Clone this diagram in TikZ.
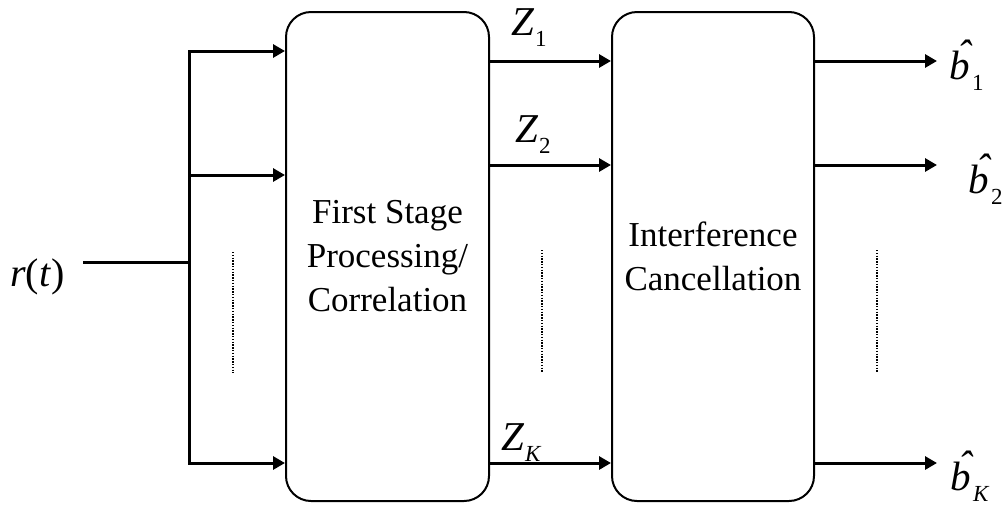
\documentclass[tikz,border=0pt]{standalone}
\usepackage{fontspec}
\setmainfont{Liberation Serif}
\usetikzlibrary{arrows.meta}

% italic symbol with a lowered subscript
\newcommand{\symsub}[3][1pt]{{\fontsize{41}{44}\selectfont\itshape #2}\kern#1\raisebox{-11pt}{\fontsize{23}{25}\selectfont #3}}
% italic b carrying a circumflex
\newcommand{\hatb}{\makebox[0pt][l]{\hspace{0.2em}\raisebox{0.26em}{\char"02C6}}b}

\tikzset{
  block/.style={draw, line width=2pt, rounded corners=25pt, align=center,
    font=\fontsize{35}{44}\selectfont, inner sep=0pt},
  wire/.style={line width=3pt},
  arr/.style={line width=3pt, -{Triangle[length=12pt,width=13pt]}},
  dots/.style={line width=1.6pt, dash pattern=on 1.4pt off 1.4pt},
  lbl/.style={anchor=base west, inner sep=0pt}
}

\begin{document}
\begin{tikzpicture}[x=1pt,y=-1pt]
\useasboundingbox (0,0) rectangle (1004,504);

% the two processing blocks
\node[block, minimum width=203pt, minimum height=489pt] (fs) at (387.5,256.5)
  {First Stage\\Processing/\\Correlation};
\node[block, minimum width=202pt, minimum height=489pt] (ic) at (713,256.5)
  {Interference\\Cancellation};

% input signal and its fan-out
\node[lbl] (rt) at (10,286) {\fontsize{40}{43}\selectfont\textit{r}(\textit{t})};
\coordinate (in) at (83,262);
\coordinate (j) at (189,262);
\coordinate (t1) at (189,51);
\coordinate (t2) at (189,175);
\coordinate (tk) at (189,463);
\draw[wire] (in) -- (j);
\draw[wire, line cap=rect] (t1) -- (tk);
\draw[arr] (t1) -- (t1 -| fs.west);
\draw[arr] (t2) -- (t2 -| fs.west);
\draw[arr] (tk) -- (tk -| fs.west);
\coordinate (d1a) at (233,252);
\coordinate (d1b) at (233,373);
\draw[dots] (d1a) -- (d1b);

% correlator outputs
\coordinate (z1) at (550,61);
\coordinate (z2) at (550,165);
\coordinate (zk) at (550,463);
\draw[arr] (fs.east |- z1) -- (ic.west |- z1);
\draw[arr] (fs.east |- z2) -- (ic.west |- z2);
\draw[arr] (fs.east |- zk) -- (ic.west |- zk);
\node[lbl] (lz1) at (511,35) {\symsub{Z}{1}};
\node[lbl] (lz2) at (515,142) {\symsub{Z}{2}};
\node[lbl] (lzk) at (501,450) {\symsub{Z}{\textit{K}}};
\coordinate (d2a) at (542,250);
\coordinate (d2b) at (542,373);
\draw[dots] (d2a) -- (d2b);

% decisions
\coordinate (o1) at (937,61);
\coordinate (o2) at (937,165);
\coordinate (ok) at (937,463);
\draw[arr] (ic.east |- o1) -- (o1);
\draw[arr] (ic.east |- o2) -- (o2);
\draw[arr] (ic.east |- ok) -- (ok);
\node[lbl] (b1) at (949,79) {\symsub[2.5pt]{\hatb}{1}};
\node[lbl] (b2) at (968,193) {\symsub[2.5pt]{\hatb}{2}};
\node[lbl] (bk) at (950,490) {\symsub[2.5pt]{\hatb}{\textit{K}}};
\coordinate (d3a) at (877,250);
\coordinate (d3b) at (877,373);
\draw[dots] (d3a) -- (d3b);
\end{tikzpicture}
\end{document}
